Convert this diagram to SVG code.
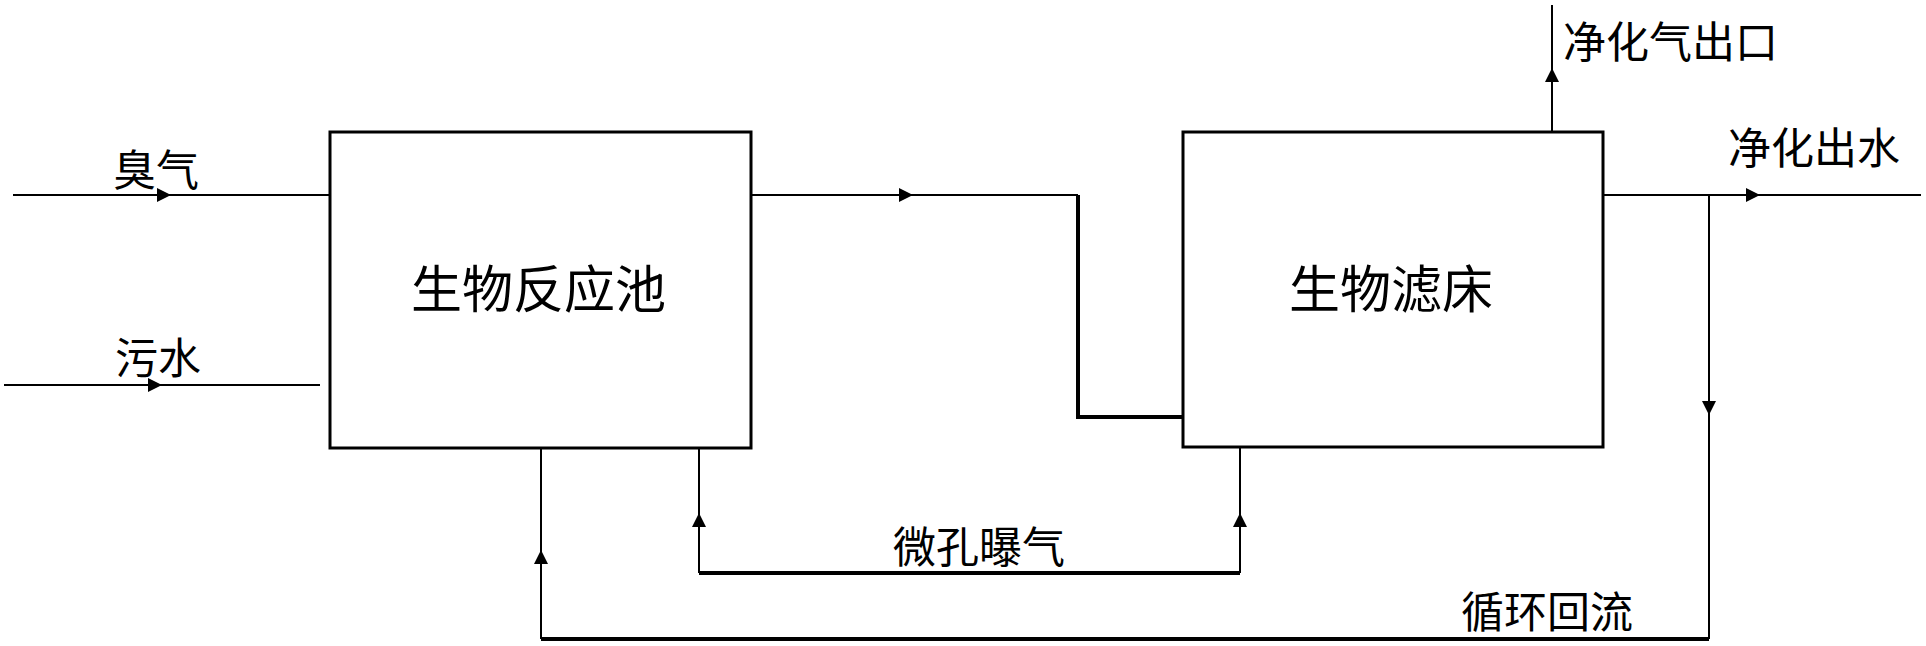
<svg xmlns="http://www.w3.org/2000/svg" width="1926" height="646" viewBox="0 0 1926 646">
<style>
.box{fill:#fff;stroke:#000;stroke-width:3}
.ln{fill:none;stroke:#000;stroke-width:2}
.thick{fill:none;stroke:#000;stroke-width:4}
.ah{fill:#000}
text{font-family:"Noto Sans CJK SC","Noto Sans CJK TC",sans-serif;fill:#000}
.lbl{font-size:43px}
.big{font-size:51px}
</style>
<defs>
<path id="aR" d="M0 0 L-14 -7 L-14 7 Z"/>
<path id="aL" d="M0 0 L14 -7 L14 7 Z"/>
<path id="aU" d="M0 0 L-7 14 L7 14 Z"/>
<path id="aD" d="M0 0 L-7 -14 L7 -14 Z"/>
</defs>
<rect width="1926" height="646" fill="#fff"/>
<g id="connectors">
<path class="ln" d="M13 195 H330"/>
<use href="#aR" class="ah" x="171" y="195"/>
<path class="ln" d="M4 385 H320"/>
<use href="#aR" class="ah" x="162" y="385"/>
<path class="ln" d="M751 195 H1078"/>
<path class="thick" d="M1078 195 V417 H1183"/>
<use href="#aR" class="ah" x="913" y="195"/>
<path class="ln" d="M1552 132 V5"/>
<use href="#aU" class="ah" x="1552" y="68"/>
<path class="ln" d="M1603 195 H1921"/>
<use href="#aR" class="ah" x="1760" y="195"/>
<path class="ln" d="M1709 195 V639"/>
<use href="#aD" class="ah" x="1709" y="415"/>
<path class="thick" d="M1709 639 H541"/>
<path class="ln" d="M541 639 V448"/>
<use href="#aU" class="ah" x="541" y="550"/>
<path class="ln" d="M699 448 V573"/>
<path class="thick" d="M699 573 H1240"/>
<path class="ln" d="M1240 573 V448"/>
<use href="#aU" class="ah" x="699" y="513"/>
<use href="#aU" class="ah" x="1240" y="513"/>
</g>
<g id="node-reactor">
<rect class="box" x="330" y="132" width="421" height="316"/>
<text class="big" x="411" y="308">生物反应池</text>
</g>
<g id="node-filter">
<rect class="box" x="1183" y="132" width="420" height="315"/>
<text class="big" x="1289" y="308">生物滤床</text>
</g>
<g id="labels">
<text class="lbl" x="113" y="186" font-size="44">臭气</text>
<text class="lbl" x="115" y="374">污水</text>
<text class="lbl" x="1563" y="58">净化气出口</text>
<text class="lbl" x="1728" y="164">净化出水</text>
<text class="lbl" x="893" y="563">微孔曝气</text>
<text class="lbl" x="1461" y="628">循环回流</text>
</g>
</svg>
